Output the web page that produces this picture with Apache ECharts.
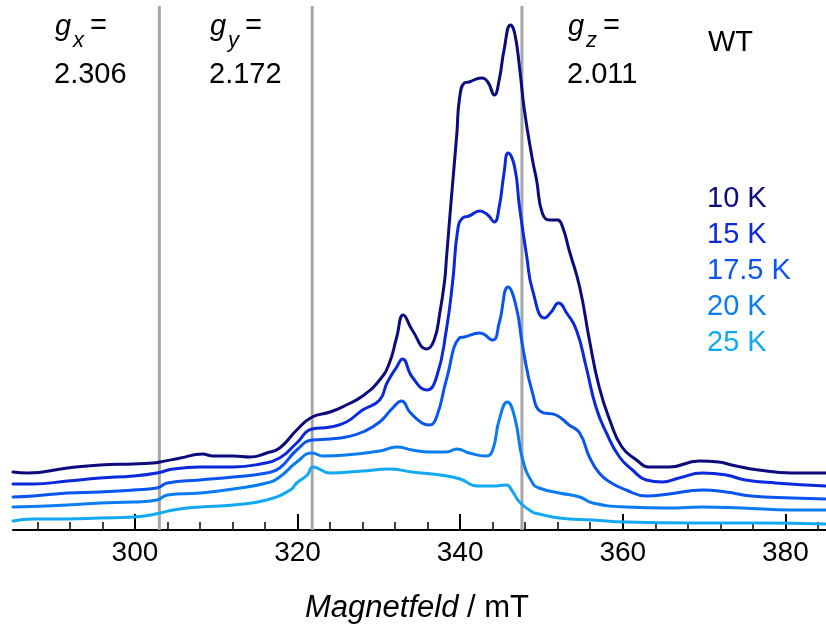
<!DOCTYPE html>
<html>
<head>
<meta charset="utf-8">
<script src="https://cdn.jsdelivr.net/npm/echarts@6/dist/echarts.min.js"></script>
<style>
html,body{margin:0;padding:0;background:#fff;}
#chart{width:826px;height:634px;}
</style>
</head>
<body>
<div id="chart"></div>
<script>
// ---- Data (field in mT, intensity in arbitrary units, stacked with offsets) ----
const temps = ['10 K', '15 K', '17.5 K', '20 K', '25 K'];
const colors = ['#0b0b7d', '#0a28dc', '#0a55f0', '#0a7cf2', '#11a9f3'];

const k10 = [[285.0,58],[286.8,57],[291.7,62],[295.7,65],[299.8,66],[302.2,67],[303.1,68],[305.6,72],[308.3,76],[309.6,74],[312.1,74],[314.1,73],[316.2,77],[317.8,82],[319.9,100],[321.8,113],[324.0,118],[326.0,125],[328.0,134],[330.1,150],[331.3,167],[332.2,193],[333.0,215],[334.1,200],[335.9,181],[336.8,190],[337.5,217],[338.1,250],[338.3,270],[338.9,330],[339.6,397],[339.9,430],[340.5,447],[341.1,448],[342.6,452],[343.4,448],[344.2,435],[344.8,450],[345.4,480],[346.2,505],[346.7,497],[347.3,463],[347.9,420],[348.9,370],[349.4,350],[350.1,317],[351.0,310],[352.0,310],[352.6,303],[353.4,280],[354.7,243],[355.9,190],[357.1,143],[358.4,110],[359.9,83],[361.7,70],[363.2,63],[365.7,63],[369.4,69],[371.8,68],[373.4,65],[376.7,60],[380.8,57],[385.0,57]];

const k15 = [[285.0,46],[287.5,46],[291.7,49],[295.7,52],[299.8,54],[302.7,57],[304.7,61],[308.0,63],[312.1,63],[315.4,66],[317.8,72],[319.9,87],[321.8,101],[324.0,103],[326.0,108],[328.0,120],[330.1,130],[331.0,147],[332.2,163],[332.9,171],[334.1,153],[335.9,140],[337.1,153],[338.3,200],[339.1,250],[339.7,300],[340.3,312],[341.1,314],[342.4,319],[343.4,315],[344.2,308],[344.8,323],[345.4,357],[345.9,377],[346.7,363],[347.3,323],[348.2,273],[348.9,240],[350.4,212],[351.2,218],[352.1,227],[353.1,217],[354.3,200],[355.5,163],[356.7,123],[358.0,97],[359.6,73],[361.2,60],[362.9,50],[364.9,48],[366.9,52],[369.8,57],[372.7,55],[375.1,50],[378.8,47],[385.0,44]];

const k175 = [[285.0,33],[287.5,34],[291.7,37],[295.7,38],[299.8,40],[302.7,42],[304.0,47],[308.0,50],[312.1,53],[316.2,57],[317.8,62],[319.9,80],[321.8,90],[324.0,91],[326.0,93],[328.0,98],[330.1,108],[331.7,122],[332.8,129],[333.8,118],[335.3,107],[336.2,105],[337.1,113],[338.3,150],[339.9,192],[340.5,193],[342.4,197],[344.0,190],[344.8,207],[345.9,243],[346.9,223],[347.7,183],[348.9,137],[350.0,118],[351.8,115],[353.4,105],[354.7,97],[355.9,73],[357.1,57],[358.4,48],[360.4,40],[362.9,34],[365.7,36],[369.8,40],[372.7,38],[375.8,34],[380.8,32],[385.0,31]];

const k20 = [[285.0,23],[291.7,25],[295.7,27],[299.8,28],[302.7,30],[304.0,35],[308.0,37],[312.1,41],[316.2,47],[317.8,53],[319.9,68],[321.8,77],[323.1,74],[326.0,75],[330.1,79],[332.2,83],[334.1,80],[336.2,78],[338.3,78],[339.6,81],[341.1,77],[343.2,74],[344.0,80],[344.8,110],[345.8,128],[346.7,113],[347.7,70],[348.9,47],[349.7,42],[352.2,37],[354.7,33],[356.3,27],[360.4,23],[365.7,22],[369.8,23],[374.6,22],[380.8,20],[385.0,20]];

const k25 = [[285.0,9],[287.5,11],[291.7,11],[295.7,12],[299.8,13],[301.9,15],[303.1,17],[304.7,20],[308.0,23],[312.1,25],[316.2,30],[319.1,40],[319.9,47],[321.2,55],[321.9,63],[324.0,57],[328.0,59],[331.3,61],[334.1,58],[337.5,55],[340.0,51],[342.1,44],[344.0,44],[345.7,45],[346.4,39],[347.3,28],[348.9,18],[349.7,16],[352.2,12],[356.3,10],[360.4,8],[368.5,7],[376.7,7],[385.0,6]];

const spectra = [k10, k15, k175, k20, k25];

const gLabels = ['x', 'y', 'z'];
const gValues = ['2.306', '2.172', '2.011'];
const gFields = [303.0, 321.8, 347.6];

const majorTicks = [300, 320, 340, 360, 380];
const minorTicks = [288, 292, 296, 304, 308, 312, 316, 324, 328, 332, 336, 344, 348, 352, 356, 364, 368, 372, 376, 384];

const FONT = '"Liberation Sans", Arial, sans-serif';

// ---- Chart ----
const chart = echarts.init(document.getElementById('chart'), null, {renderer: 'canvas'});

const series = [];
gFields.forEach((f, i) => {
  series.push({
    type: 'line', xAxisIndex: 0, yAxisIndex: 0,
    data: [[f, 0], [f, 524]],
    showSymbol: false, symbol: 'none', silent: true,
    lineStyle: {color: '#a6a6a6', width: 3},
    z: 1, animation: false
  });
});
spectra.forEach((d, i) => {
  series.push({
    name: temps[i], type: 'line', xAxisIndex: 0, yAxisIndex: 0,
    data: d, showSymbol: false, symbol: 'none',
    smooth: 0.5,
    lineStyle: {color: colors[i], width: 3, join: 'round', cap: 'round'},
    z: 5, animation: false
  });
});

const graphics = [];
const gLefts = [55, 210, 568];
gLefts.forEach((x, i) => {
  graphics.push({type: 'text', x: x, y: 27, style: {text: 'g', font: 'italic 29px ' + FONT, fill: '#000', verticalAlign: 'middle', align: 'left'}});
  graphics.push({type: 'text', x: x + 18, y: 41, style: {text: gLabels[i], font: 'italic 22px ' + FONT, fill: '#000', verticalAlign: 'middle', align: 'left'}});
  graphics.push({type: 'text', x: x + 35, y: 26, style: {text: '=', font: '29px ' + FONT, fill: '#000', verticalAlign: 'middle', align: 'left'}});
  graphics.push({type: 'text', x: x - 1, y: 75, style: {text: gValues[i], font: '29px ' + FONT, fill: '#000', verticalAlign: 'middle', align: 'left'}});
});
graphics.push({type: 'text', x: 708, y: 43, style: {text: 'WT', font: '29px ' + FONT, fill: '#000', verticalAlign: 'middle', align: 'left'}});
temps.forEach((t, i) => {
  graphics.push({type: 'text', x: 707, y: 199 + i * 36, style: {text: t, font: '29px ' + FONT, fill: colors[i], verticalAlign: 'middle', align: 'left'}});
});
graphics.push({
  type: 'text', x: 417, y: 608,
  style: {
    text: '{i|Magnetfeld}{n| / mT}',
    align: 'center', verticalAlign: 'middle',
    rich: {
      i: {fontStyle: 'italic', fontSize: 31, fontFamily: FONT, fill: '#000', color: '#000'},
      n: {fontSize: 31, fontFamily: FONT, fill: '#000', color: '#000'}
    }
  }
});

const option = {
  backgroundColor: '#ffffff',
  animation: false,
  grid: {left: 13, right: 0, top: 0, bottom: 104, containLabel: false},
  xAxis: [
    {
      type: 'value', min: 285, max: 385, position: 'bottom',
      splitLine: {show: false},
      axisLine: {show: true, lineStyle: {color: '#000', width: 2}},
      axisTick: {show: true, inside: true, length: 16, customValues: majorTicks, lineStyle: {color: '#000', width: 2}},
      axisLabel: {show: true, customValues: majorTicks, fontSize: 28, fontFamily: FONT, color: '#000', margin: 9}
    },
    {
      type: 'value', min: 285, max: 385, position: 'bottom', offset: 0,
      splitLine: {show: false},
      axisLine: {show: false},
      axisTick: {show: true, inside: true, length: 8, customValues: minorTicks, lineStyle: {color: '#000', width: 1.5}},
      axisLabel: {show: false}
    }
  ],
  yAxis: {type: 'value', min: 0, max: 530, show: false, splitLine: {show: false}},
  series: series,
  graphic: graphics
};
chart.setOption(option);
</script>
</body>
</html>
